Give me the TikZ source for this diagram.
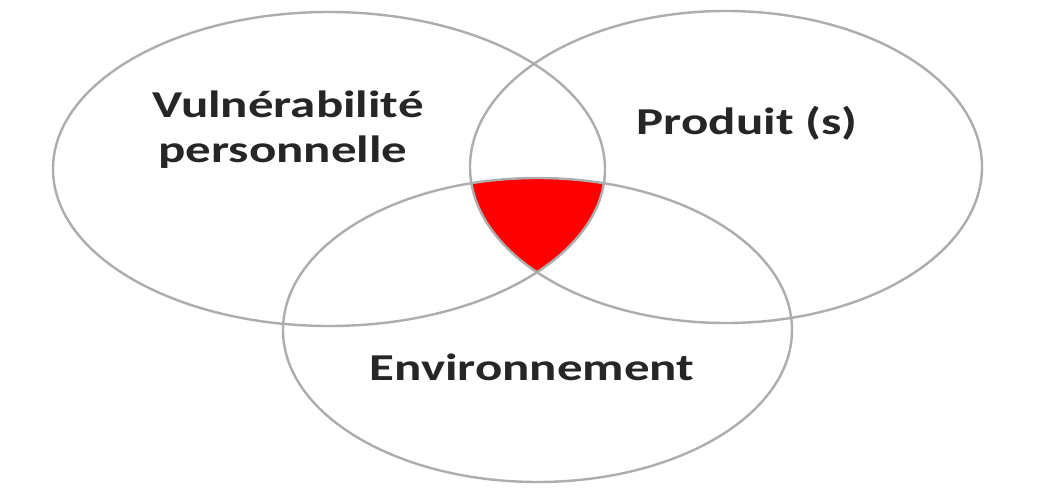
\documentclass[tikz,border=0pt]{standalone}
\usepackage{fontspec}
\setmainfont{Carlito}
\begin{document}
\begin{tikzpicture}[x=1pt,y=1pt,
  ring/.style={draw=black!32, line width=2.4pt},
  lbl/.style={anchor=base, inner sep=0pt, text=black!85,
    font=\bfseries\fontsize{38}{44}\selectfont}]
\useasboundingbox (0,0) rectangle (1044,491);
\fill[white] (0,0) rectangle (1044,491);
\def\ellA{(329,322) ellipse [x radius=276, y radius=157]}
\def\ellB{(726,324) ellipse [x radius=256, y radius=156]}
\def\ellC{(537.5,161) ellipse [x radius=254.5, y radius=152]}
\begin{scope}
  \clip \ellA;
  \clip \ellB;
  \fill[red] \ellC;
\end{scope}
\draw[ring] \ellA;
\draw[ring] \ellB;
\draw[ring] \ellC;
\node[lbl] (v1) at (288,373) {\scalebox{1.34}[1]{Vulnérabilité}};
\node[lbl] (v2) at (283,329) {\scalebox{1.34}[1]{personnelle}};
\node[lbl] (p) at (747,356) {\scalebox{1.34}[1]{Produit (s)}};
\node[lbl] (e) at (532,111) {\scalebox{1.34}[1]{Environnement}};
\end{tikzpicture}
\end{document}
